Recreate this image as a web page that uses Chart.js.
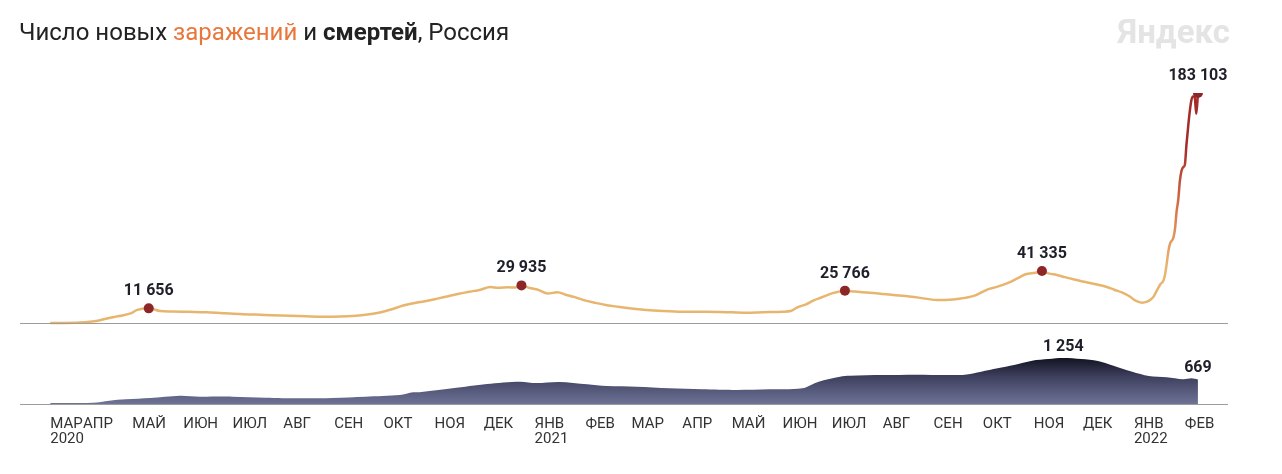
<!DOCTYPE html>
<html>
<head>
<meta charset="utf-8">
<script src="https://cdn.jsdelivr.net/npm/chart.js@4.4.1/dist/chart.umd.min.js"></script>
<style>
  body { margin: 0; background: #fff; }
  #wrap { position: relative; width: 1282px; height: 474px; }
  #c { position: absolute; left: 0; top: 0; }
  #title { position: absolute; left: 19px; top: 17px; font: 24px Roboto, sans-serif; color: #222; line-height: 30px; white-space: nowrap; }
  #title .inf { color: #e8773c; }
  #title b { font-weight: 700; }
  #logo { position: absolute; right: 52px; top: 12px; font: bold 33px Roboto, sans-serif; color: #e4e4e4; line-height: 40px; }
</style>
</head>
<body>
<div id="wrap">
  <canvas id="c" width="1282" height="474"></canvas>
  <div id="title">Число новых <span class="inf">заражений</span> и <b>смертей</b>, Россия</div>
  <div id="logo">Яндекс</div>
</div>
<script>
// new cases per day
const caseDates = [
  '2020-03-12','2020-03-20','2020-03-30','2020-04-05','2020-04-10','2020-04-15','2020-04-20','2020-04-25','2020-04-30',
  '2020-05-04','2020-05-11','2020-05-18','2020-05-25','2020-06-05','2020-06-15','2020-06-25','2020-07-05','2020-07-15',
  '2020-07-25','2020-08-05','2020-08-15','2020-08-25','2020-09-05','2020-09-12','2020-09-20','2020-09-28','2020-10-05',
  '2020-10-13','2020-10-20','2020-10-27','2020-11-04','2020-11-10','2020-11-16','2020-11-22','2020-11-29','2020-12-05',
  '2020-12-10','2020-12-16','2020-12-20','2020-12-24','2020-12-29','2021-01-03','2021-01-09','2021-01-15','2021-01-20',
  '2021-01-25','2021-02-01','2021-02-07','2021-02-14','2021-02-21','2021-03-01','2021-03-10','2021-03-20','2021-04-01',
  '2021-04-15','2021-05-01','2021-05-10','2021-05-20','2021-06-01','2021-06-06','2021-06-10','2021-06-15','2021-06-20',
  '2021-06-25','2021-07-01','2021-07-09','2021-07-15','2021-07-24','2021-08-03','2021-08-13','2021-08-23','2021-09-03',
  '2021-09-13','2021-09-20','2021-09-26','2021-10-04','2021-10-10','2021-10-16','2021-10-22','2021-10-27','2021-11-02',
  '2021-11-06','2021-11-10','2021-11-15','2021-11-20','2021-11-25','2021-12-01','2021-12-08','2021-12-15','2021-12-20',
  '2021-12-25','2021-12-29','2022-01-02','2022-01-06','2022-01-09','2022-01-11','2022-01-13','2022-01-15','2022-01-17',
  '2022-01-19','2022-01-20','2022-01-21','2022-01-22','2022-01-23','2022-01-25','2022-01-26','2022-01-27','2022-01-28',
  '2022-01-29','2022-01-30','2022-01-31','2022-02-01','2022-02-02','2022-02-03','2022-02-04','2022-02-05','2022-02-06',
  '2022-02-07','2022-02-08','2022-02-09'
];
const caseValues = [
  10, 60, 400, 950, 1800, 3400, 4800, 6000, 7600,
  10400, 11656, 9500, 9100, 8900, 8600, 7800, 7100, 6700,
  6200, 5700, 5300, 5000, 5200, 5600, 6600, 8200, 10500,
  13900, 16000, 17500, 19800, 21500, 23300, 24800, 26500, 28600,
  28000, 28500, 28200, 29935, 27800, 26500, 23500, 24500, 22500,
  20800, 17800, 16000, 14200, 12900, 11500, 10400, 9600, 9000,
  8900, 8500, 8200, 8600, 9000, 9500, 12500, 14600, 18000,
  20500, 23600, 25766, 25000, 24100, 22800, 21700, 20200, 18300,
  18800, 20000, 21800, 26800, 29000, 31700, 35500, 38800, 40000,
  41335, 39500, 38200, 36500, 34800, 33000, 31000, 28900, 26500,
  24100, 21500, 17800, 16200, 17000, 18500, 21000, 26000, 30700,
  33900, 38900, 47500, 57200, 63200, 67800, 74700, 88800, 98000,
  113100, 121200, 124100, 125800, 141900, 155800, 168200, 177300, 180400,
  180000, 166600, 183103
];
const caseMarks = ['2020-05-11','2020-12-24','2021-07-09','2021-11-06','2022-02-09'];

// deaths per day
const deathDates = [
  '2020-03-12','2020-04-07','2020-04-17','2020-04-27','2020-05-12','2020-05-30','2020-06-11','2020-07-01','2020-07-21',
  '2020-08-11','2020-08-31','2020-09-20','2020-10-11','2020-10-19','2020-10-23','2020-11-12','2020-12-03','2020-12-23',
  '2021-01-02','2021-01-16','2021-02-02','2021-02-14','2021-03-04','2021-03-24','2021-04-13','2021-05-04','2021-05-24',
  '2021-06-13','2021-06-23','2021-07-06','2021-07-12','2021-08-01','2021-08-21','2021-09-10','2021-09-20','2021-09-30',
  '2021-10-10','2021-10-20','2021-10-31','2021-11-10','2021-11-19','2021-11-30','2021-12-10','2021-12-20','2021-12-31',
  '2022-01-10','2022-01-21','2022-01-31','2022-02-05','2022-02-09'
];
const deathValues = [
  25, 35, 90, 127, 164, 227, 200, 200, 173,
  155, 165, 200, 245, 320, 320, 427, 545, 608,
  570, 600, 536, 490, 472, 427, 400, 382, 400,
  427, 608, 745, 772, 790, 800, 790, 800, 880,
  973, 1063, 1181, 1227, 1254, 1227, 1172, 1036, 880,
  763, 727, 673, 700, 669
];
const deathMarks = ['2021-11-19','2022-02-09'];

// month ticks (first one sits at the start of the data)
const tickDates = [
  '2020-03-12','2020-04-01','2020-05-01','2020-06-01','2020-07-01','2020-08-01','2020-09-01','2020-10-01','2020-11-01',
  '2020-12-01','2021-01-01','2021-02-01','2021-03-01','2021-04-01','2021-05-01','2021-06-01','2021-07-01','2021-08-01',
  '2021-09-01','2021-10-01','2021-11-01','2021-12-01','2022-01-01','2022-02-01'
];
const tickLabels = [
  ['МАР','2020'],'АПР','МАЙ','ИЮН','ИЮЛ','АВГ','СЕН','ОКТ','НОЯ','ДЕК',['ЯНВ','2021'],'ФЕВ',
  'МАР','АПР','МАЙ','ИЮН','ИЮЛ','АВГ','СЕН','ОКТ','НОЯ','ДЕК',['ЯНВ','2022'],'ФЕВ'
];

const day = s => {
  const [y, m, d] = s.split('-').map(Number);
  return (Date.UTC(y, m - 1, d) - Date.UTC(2020, 2, 1)) / 86400000;
};
const fmt = v => String(v).replace(/\B(?=(\d{3})+(?!\d))/g, ' ');

const casePoints = caseDates.map((d, i) => ({ x: day(d), y: caseValues[i] }));
const deathPoints = deathDates.map((d, i) => ({ x: day(d), y: deathValues[i] }));

const baseLines = {
  id: 'baseLines',
  afterDatasetsDraw(chart) {
    const { ctx, chartArea, scales } = chart;
    ctx.save();
    ctx.strokeStyle = '#9c9c9c';
    ctx.lineWidth = 1;
    [scales.y.getPixelForValue(0), scales.y2.getPixelForValue(0)].forEach(py => {
      ctx.beginPath();
      ctx.moveTo(chartArea.left, Math.round(py) + 0.5);
      ctx.lineTo(chartArea.right, Math.round(py) + 0.5);
      ctx.stroke();
    });
    ctx.restore();
  }
};

const valueLabels = {
  id: 'valueLabels',
  afterDatasetsDraw(chart) {
    const { ctx } = chart;
    ctx.save();
    ctx.font = 'bold 16px Roboto, sans-serif';
    ctx.fillStyle = '#1f1f2a';
    ctx.textAlign = 'center';
    ctx.textBaseline = 'bottom';
    const caseMeta = chart.getDatasetMeta(1);
    caseMarks.forEach(d => {
      const i = caseDates.indexOf(d);
      const el = caseMeta.data[i];
      ctx.fillText(fmt(caseValues[i]), el.x, el.y - 9);
    });
    const deathMeta = chart.getDatasetMeta(0);
    deathMarks.forEach(d => {
      const i = deathDates.indexOf(d);
      const el = deathMeta.data[i];
      ctx.fillText(fmt(deathValues[i]), el.x, el.y - 3);
    });
    ctx.restore();
  }
};

Chart.defaults.font.family = 'Roboto, sans-serif';

const chart = new Chart(document.getElementById('c'), {
  type: 'line',
  data: {
    datasets: [{
      label: 'Смерти',
      data: deathPoints,
      yAxisID: 'y2',
      fill: 'origin',
      borderWidth: 0,
      pointRadius: 0,
      tension: 0.3,
      backgroundColor: ctx => {
        const { chart } = ctx;
        if (!chart.chartArea) return '#5f6489';
        const top = chart.scales.y2.getPixelForValue(1254);
        const bottom = chart.scales.y2.getPixelForValue(0);
        const g = chart.ctx.createLinearGradient(0, top, 0, bottom);
        g.addColorStop(0, '#121322');
        g.addColorStop(0.4, '#3d3f5d');
        g.addColorStop(1, '#6e7397');
        return g;
      }
    }, {
      label: 'Заражения',
      data: casePoints,
      yAxisID: 'y',
      borderWidth: 2.5,
      cubicInterpolationMode: 'monotone',
      pointRadius: ctx => caseMarks.includes(caseDates[ctx.dataIndex]) ? 5 : 0,
      pointBackgroundColor: '#8e2628',
      pointBorderWidth: 0,
      borderColor: ctx => {
        const { chart } = ctx;
        if (!chart.chartArea) return '#e8b56f';
        const y0 = chart.scales.y.getPixelForValue(45000);
        const y1 = chart.scales.y.getPixelForValue(140000);
        const g = chart.ctx.createLinearGradient(0, y0, 0, y1);
        g.addColorStop(0, '#e8b56f');
        g.addColorStop(0.45, '#d9794b');
        g.addColorStop(1, '#a52b2a');
        return g;
      }
    }]
  },
  options: {
    responsive: false,
    animation: false,
    layout: { padding: { left: 20, right: 54, top: 93, bottom: 20 } },
    plugins: {
      legend: { display: false },
      tooltip: { enabled: false }
    },
    scales: {
      x: {
        type: 'linear',
        min: -7.4,
        max: 728.3,
        grid: { display: false },
        border: { display: false },
        afterBuildTicks: scale => { scale.ticks = tickDates.map(d => ({ value: day(d) })); },
        afterFit: scale => { scale.height = 50; },
        ticks: {
          autoSkip: false,
          maxRotation: 0,
          align: 'start',
          padding: 5,
          color: '#333',
          font: { size: 15, lineHeight: 1.0 },
          callback: (v, i) => tickLabels[i]
        }
      },
      y: { display: false, min: -64484, max: 183103 },
      y2: { display: false, min: 0, max: 8478 }
    }
  },
  plugins: [baseLines, valueLabels]
});
</script>
</body>
</html>
